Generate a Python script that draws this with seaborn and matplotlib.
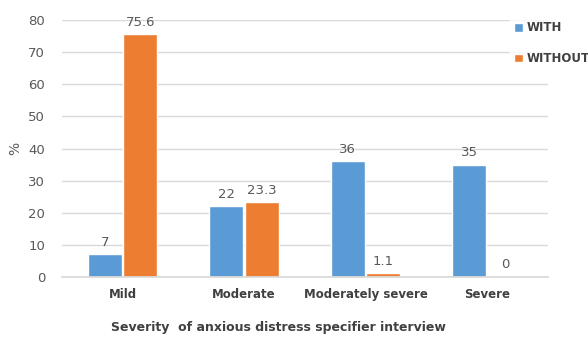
import matplotlib
matplotlib.use("Agg")
import matplotlib.pyplot as plt
import seaborn as sns
import pandas as pd

categories = ["Mild", "Moderate", "Moderately severe", "Severe"]
with_vals = [7, 22, 36, 35]
without_vals = [75.6, 23.3, 1.1, 0]
series = ["WITH", "WITHOUT"]
y_ticks = [0, 10, 20, 30, 40, 50, 60, 70, 80]

df = pd.DataFrame({
    "category": categories * 2,
    "value": with_vals + without_vals,
    "group": [series[0]] * 4 + [series[1]] * 4,
})

sns.set_theme(style="white")
plt.rcParams["font.family"] = ["DejaVu Sans"]

text_col = "#595959"
fig = plt.figure(figsize=(5.88, 3.41), dpi=100)
ax = fig.add_axes([0.105, 0.188, 0.827, 0.753])

sns.barplot(data=df, x="category", y="value", hue="group",
            palette=["#5B9BD5", "#ED7D31"], width=0.585, gap=0.045,
            ax=ax, legend=True, saturation=1)

for cont in ax.containers:
    ax.bar_label(cont, labels=[f"{v:g}" for v in cont.datavalues],
                 padding=4, fontsize=9.5, color=text_col)

ax.set_ylim(0, 80)
ax.set_xlim(-0.5, 3.5)
ax.set_yticks(y_ticks)
ax.yaxis.grid(True, color="#D9D9D9", linewidth=1)
ax.set_axisbelow(True)
for s in ["top", "right", "left"]:
    ax.spines[s].set_visible(False)
ax.spines["bottom"].set_color("#D9D9D9")
ax.tick_params(axis="both", length=0, colors=text_col)
ax.tick_params(axis="y", labelsize=9.5, pad=12)
ax.tick_params(axis="x", labelsize=8.5, pad=8)
for lab in ax.get_xticklabels():
    lab.set_fontweight("bold")
    lab.set_color("#404040")

ax.set_ylabel("%", fontsize=10, color=text_col, labelpad=4)
ax.set_xlabel("Severity  of anxious distress specifier interview", fontsize=9,
              fontweight="bold", color="#404040")
ax.xaxis.set_label_coords(0.445, -0.173)

leg = ax.legend(loc="upper left", bbox_to_anchor=(0.858, 0.965),
                bbox_transform=fig.transFigure, frameon=True, fontsize=8.5,
                handlelength=0.75, handleheight=0.75, handletextpad=0.3,
                labelspacing=1.5, borderpad=0.3)
leg.get_frame().set_facecolor("white")
leg.get_frame().set_edgecolor("white")
for t in leg.get_texts():
    t.set_fontweight("bold")
    t.set_color("#404040")

fig.savefig("out.png", dpi=100)
